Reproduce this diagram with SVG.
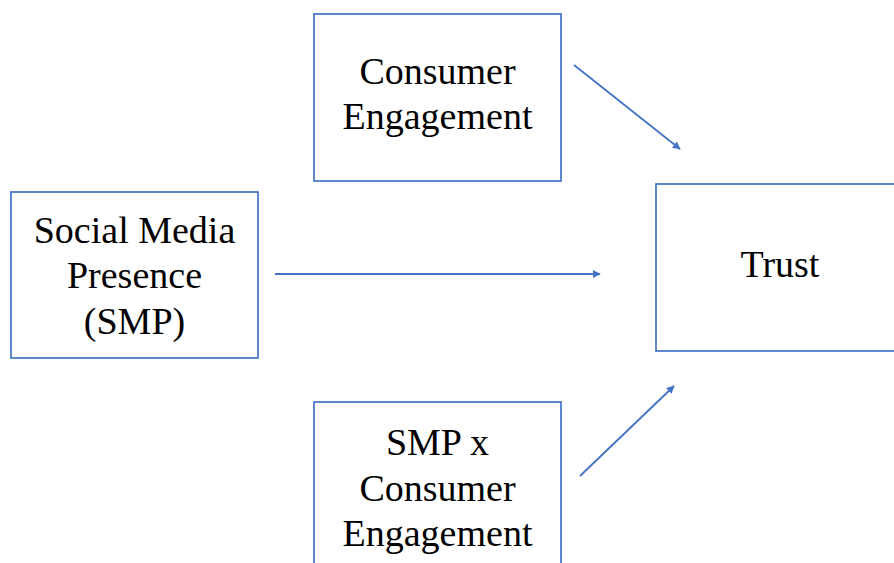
<svg xmlns="http://www.w3.org/2000/svg" width="894" height="563" viewBox="0 0 894 563">
  <style>
    .box { fill: #ffffff; stroke: #4472C4; stroke-width: 1.7; }
    .lbl { font-family: "Liberation Serif", "Times New Roman", "DejaVu Serif", serif; font-size: 38px; fill: #000000; text-anchor: middle; }
    .edge { stroke: #4472C4; stroke-width: 1.8; fill: none; marker-end: url(#arrow); }
  </style>
  <defs>
    <marker id="arrow" viewBox="0 0 10 10" refX="9" refY="5" markerWidth="8" markerHeight="8" markerUnits="userSpaceOnUse" orient="auto">
      <path d="M0,0 L10,5 L0,10 z" fill="#4472C4"/>
    </marker>
  </defs>
  <rect width="894" height="563" fill="#ffffff"/>

  <g id="smp">
    <rect class="box" x="11" y="192" width="247" height="166"/>
    <text class="lbl" x="134.5" y="243">Social Media</text>
    <text class="lbl" x="134.5" y="288">Presence</text>
    <text class="lbl" x="134.5" y="334">(SMP)</text>
  </g>

  <g id="engagement">
    <rect class="box" x="314" y="14" width="247" height="167"/>
    <text class="lbl" x="437.5" y="84">Consumer</text>
    <text class="lbl" x="437.5" y="129">Engagement</text>
  </g>

  <g id="trust">
    <rect class="box" x="656" y="184" width="250" height="167"/>
    <text class="lbl" x="780" y="277">Trust</text>
  </g>

  <g id="interaction">
    <rect class="box" x="314" y="402" width="247" height="175"/>
    <text class="lbl" x="437.5" y="455">SMP x</text>
    <text class="lbl" x="437.5" y="501">Consumer</text>
    <text class="lbl" x="437.5" y="546">Engagement</text>
  </g>

  <g id="connectors">
    <line class="edge" x1="574" y1="65" x2="680" y2="149"/>
    <line class="edge" x1="275" y1="274" x2="600" y2="274"/>
    <line class="edge" x1="580" y1="476" x2="674" y2="386"/>
  </g>
</svg>
